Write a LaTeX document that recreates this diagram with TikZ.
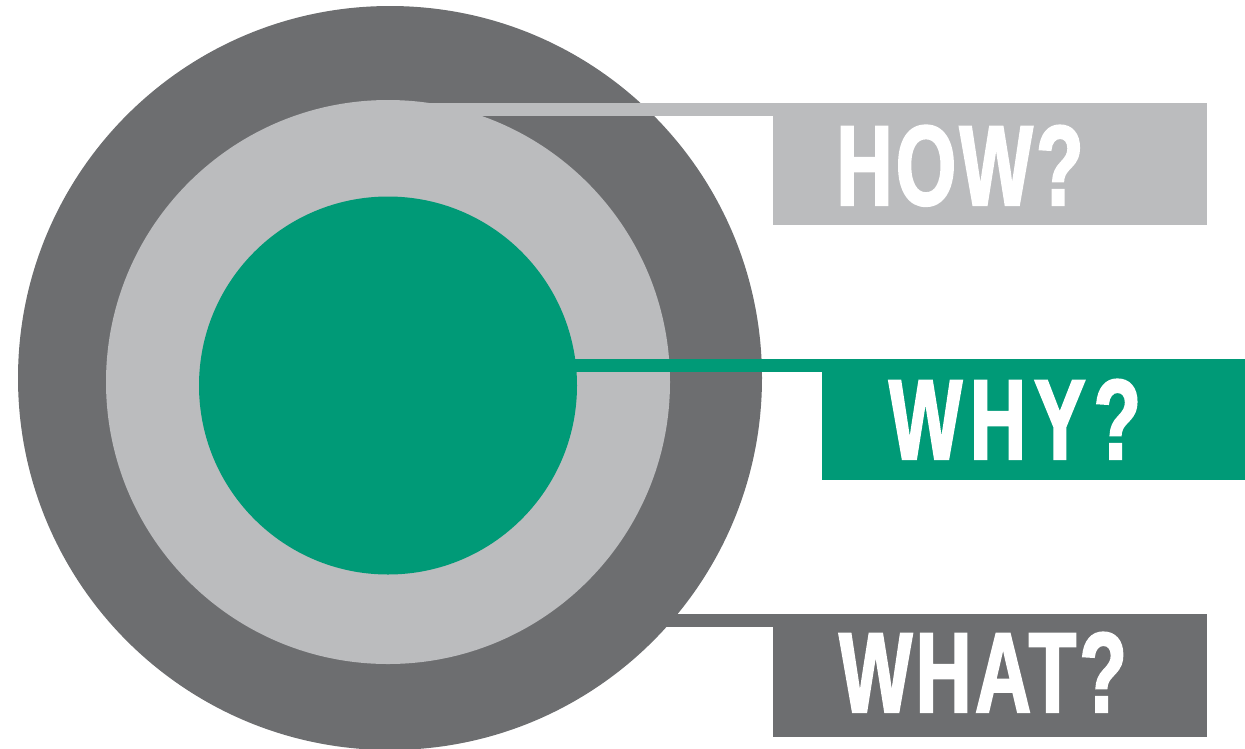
\documentclass[tikz,border=0pt]{standalone}
\usepackage{fontspec}
\newfontfamily\qfont[FakeStretch=0.68,FakeBold=1.8,LetterSpace=3]{Liberation Sans Bold}
\definecolor{darkgrey}{HTML}{6D6E70}
\definecolor{lightgrey}{HTML}{BBBCBE}
\definecolor{leafgreen}{HTML}{009A77}

\begin{document}
\begin{tikzpicture}[x=1pt,y=-1pt]
	\tikzset{disc/.style={circle, draw=none, inner sep=0pt},
	         qbox/.style={rectangle, draw=none, inner sep=0pt},
	         qtext/.style={text=white, inner sep=0pt, anchor=base, font=\qfont\fontsize{114}{114}\selectfont},
	         band/.style={line width=13pt, line cap=butt}}
	\useasboundingbox (0,0) rectangle (1245,748);

	%---NODES---
	\node[disc, fill=darkgrey, minimum size=744pt] (whatdisc) at (390,378) {};
	\node[qbox, fill=darkgrey, minimum width=434pt, minimum height=123pt] (whatbox) at (990,675.5) {};
	\coordinate (whatjoin) at ([yshift=-6.5pt]whatbox.north west);
	\draw[band, darkgrey] (whatdisc.center |- whatjoin) -- (whatjoin);

	\node[disc, fill=lightgrey, minimum size=564pt] (howdisc) at (388,382) {};
	\node[qbox, fill=lightgrey, minimum width=434pt, minimum height=122pt] (howbox) at (990,164) {};
	\coordinate (howjoin) at ([yshift=-6.5pt]howbox.north west);
	\draw[band, lightgrey] (howdisc.center |- howjoin) -- (howjoin);

	\node[disc, fill=leafgreen, minimum size=378pt] (whydisc) at (388,385.5) {};
	\node[qbox, fill=leafgreen, minimum width=423pt, minimum height=121pt] (whybox) at (1033.5,419.5) {};
	\coordinate (whyjoin) at ([yshift=-6.5pt]whybox.north west);
	\draw[band, leafgreen] (whydisc.center |- whyjoin) -- (whyjoin);

	%---LABELS---
	\node[qtext] (howtext) at ([xshift=-30pt,yshift=-41pt]howbox.center) {HOW?};
	\node[qtext] (whytext) at ([xshift=-18.5pt,yshift=-39.5pt]whybox.center) {\addfontfeature{LetterSpace=7}WHY?};
	\node[qtext] (whattext) at ([xshift=-7pt,yshift=-36.5pt]whatbox.center) {WHAT?};
\end{tikzpicture}
\end{document}
